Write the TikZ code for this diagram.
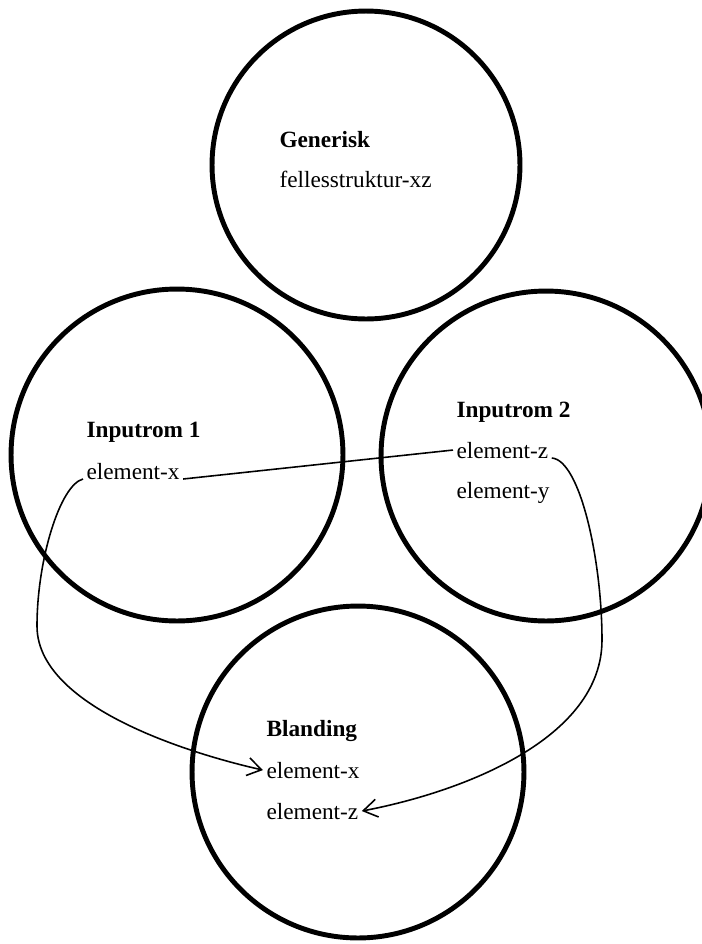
\documentclass[tikz,border=0pt]{standalone}
\usepackage{fontspec}
\setmainfont{Liberation Serif}
\usetikzlibrary{arrows.meta}

\begin{document}
\begin{tikzpicture}[x=0.02cm, y=-0.02cm,
		room/.style={draw, circle, line width=2.8pt, inner sep=0pt},
		txt/.style={anchor=base west, inner sep=0pt, outer sep=2pt, font=\fontsize{13.25}{16}\selectfont},
		head/.style={txt, font=\fontsize{13.25}{16}\selectfont\bfseries},
		link/.style={line width=0.9pt},
		arr/.style={link, -{Straight Barb[length=2.8mm, width=3.6mm]}}]
				\useasboundingbox (0,0) rectangle (702,944);
				
				% the four spaces
				\node[room, minimum size=6.16cm] (gen) at (366,165) {};
				\node[room, minimum size=6.64cm] (in1) at (177,455) {};
				\node[room, minimum size=6.6cm] (in2) at (546,456) {};
				\node[room, minimum size=6.64cm] (bld) at (358,772) {};
				
				\node[head] (gent) at (276,147) {Generisk};
				\node[txt] (fs) at (276,187) {fellesstruktur-xz};
				
				\node[head] (in1t) at (83,437) {Inputrom 1};
				\node[txt] (x1) at (83,479) {element-x};
				
				\node[head] (in2t) at (453,417) {Inputrom 2};
				\node[txt] (z2) at (453,458) {element-z};
				\node[txt] (y2) at (453,498) {element-y};
				
				\node[head] (bldt) at (263,736) {Blanding};
				\node[txt] (bx) at (263,778) {element-x};
				\node[txt] (bz) at (263,819) {element-z};
				
				% mappings
				\draw[link] (x1.base east) -- (z2.west);
				\draw[arr] (x1.base west) .. controls (60,485) and (37,560) .. (37,626)
					.. controls (37,715) and (222,761) .. (bx.west);
				\draw[arr] (z2.base east) .. controls (580,460) and (602,560) .. (602,640)
					.. controls (602,739) and (462,792) .. (bz.east);
			\end{tikzpicture}
\end{document}
